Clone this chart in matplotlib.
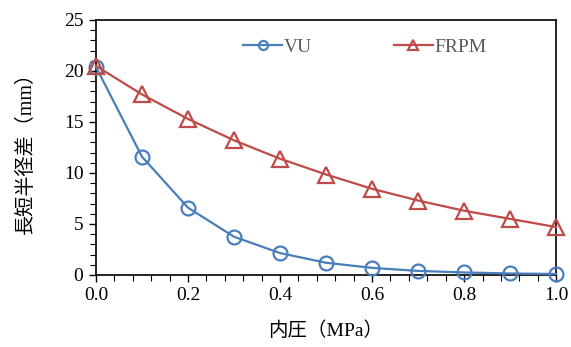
import numpy as np
import matplotlib
matplotlib.use("Agg")
import matplotlib.pyplot as plt
from matplotlib.ticker import MultipleLocator

plt.rcParams['font.family'] = ['Liberation Serif', 'Noto Sans CJK JP']

pressure = [0.0, 0.1, 0.2, 0.3, 0.4, 0.5, 0.6, 0.7, 0.8, 0.9, 1.0]
vu = [20.4, 11.6, 6.6, 3.75, 2.15, 1.2, 0.7, 0.4, 0.25, 0.15, 0.1]
frpm = [20.5, 17.7, 15.3, 13.2, 11.4, 9.85, 8.45, 7.3, 6.3, 5.5, 4.7]

blue = '#4a7ebb'
red = '#be4b48'

fig = plt.figure(figsize=(5.71, 3.47), dpi=100)
ax = fig.add_axes([0.168, 0.2075, 0.806, 0.735])

ax.plot(pressure, vu, color=blue, lw=1.6, marker='o', ms=10, mfc='none',
        mec=blue, mew=1.6, label='VU', clip_on=False, zorder=3)
ax.plot(pressure, frpm, color=red, lw=1.6, marker='^', ms=11, mfc='none',
        mec=red, mew=1.6, label='FRPM', clip_on=False, zorder=3)

ax.set_xlim(0, 1.0)
ax.set_ylim(0, 25)
ax.xaxis.set_major_locator(MultipleLocator(0.2))
ax.xaxis.set_minor_locator(MultipleLocator(0.04))
ax.yaxis.set_major_locator(MultipleLocator(5))
ax.yaxis.set_minor_locator(MultipleLocator(1))
ax.xaxis.set_major_formatter(matplotlib.ticker.FormatStrFormatter('%.1f'))

ax.tick_params(which='major', direction='out', length=5, width=1, labelsize=14, pad=4)
ax.tick_params(which='minor', direction='out', length=4, width=0.8)
for s in ax.spines.values():
    s.set_linewidth(1.2)

ax.set_xlabel('内圧（MPa）', fontsize=14, labelpad=12)
ax.set_ylabel('長短半径差（mm）', fontsize=14.5, labelpad=20)

leg = ax.legend(loc='center', bbox_to_anchor=(0.585, 0.894), ncol=2, frameon=False,
                fontsize=14, handlelength=2.0, handletextpad=0.1, columnspacing=4.2,
                markerscale=0.65)
for t in leg.get_texts():
    t.set_color('#595959')

fig.savefig('out.png', dpi=100)
